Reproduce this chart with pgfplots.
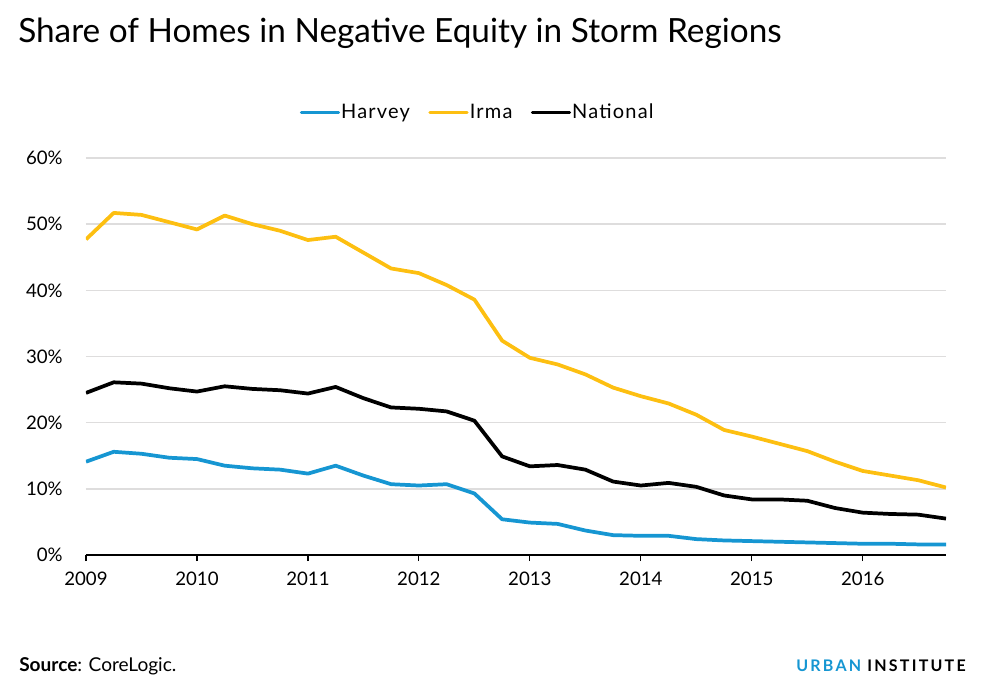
\documentclass[border=0pt]{standalone}
\usepackage{fontspec}
\setmainfont{Lato}
\usepackage{pgfplots}
\usepackage{pgfplotstable}
\pgfplotsset{compat=1.18}

\definecolor{harvey}{HTML}{1696D2}
\definecolor{irma}{HTML}{FDBF11}
\definecolor{gridgray}{HTML}{DEDDDD}

% quarterly share of homes in negative equity, in percent
\pgfplotstableread{
year    harvey irma national
2009.00 14.1   47.7 24.5
2009.25 15.6   51.7 26.1
2009.50 15.3   51.4 25.9
2009.75 14.7   50.3 25.2
2010.00 14.5   49.2 24.7
2010.25 13.5   51.3 25.5
2010.50 13.1   50.0 25.1
2010.75 12.9   49.0 24.9
2011.00 12.3   47.6 24.4
2011.25 13.5   48.1 25.4
2011.50 12.0   45.7 23.7
2011.75 10.7   43.3 22.3
2012.00 10.5   42.6 22.1
2012.25 10.7   40.8 21.7
2012.50  9.3   38.6 20.3
2012.75  5.4   32.4 14.9
2013.00  4.9   29.8 13.4
2013.25  4.7   28.8 13.6
2013.50  3.7   27.3 12.9
2013.75  3.0   25.3 11.1
2014.00  2.9   24.0 10.5
2014.25  2.9   22.9 10.9
2014.50  2.4   21.2 10.3
2014.75  2.2   18.9  9.0
2015.00  2.1   17.9  8.4
2015.25  2.0   16.8  8.4
2015.50  1.9   15.7  8.2
2015.75  1.8   14.1  7.1
2016.00  1.7   12.7  6.4
2016.25  1.7   12.0  6.2
2016.50  1.6   11.3  6.1
2016.75  1.6   10.2  5.5
}\equitydata

\begin{document}
\begin{tikzpicture}[x=1pt,y=1pt]
\useasboundingbox (-64.5,-103.5) rectangle (675,416.25);
\begin{axis}[
    at={(0,0)}, anchor=south west,
    scale only axis,
    width=645pt, height=297.75pt,
    xmin=2009, xmax=2016.75,
    ymin=0, ymax=60,
    axis x line=bottom,
    axis y line=left,
    axis line style={-},
    x axis line style={black, line width=0.9pt},
    y axis line style={draw=none},
    xtick={2009,2010,...,2016},
    ytick={0,10,...,60},
    tick align=outside,
    major tick length=4.5pt,
    xtick style={black, line width=0.9pt},
    ytick style={draw=none},
    ymajorgrids,
    grid style={gridgray, line width=1.2pt},
    /pgf/number format/assume math mode=true,
    /pgf/number format/1000 sep={},
    ticklabel style={font=\fontsize{14}{16}\selectfont},
    xticklabel style={yshift=-5pt},
    yticklabel style={xshift=-9.5pt},
    yticklabel={\pgfmathprintnumber{\tick}\%},
    legend columns=3,
    legend style={draw=none, fill=none, at={(0.455,1.1146)}, anchor=center,
        font=\fontsize{15}{17}\selectfont\addfontfeature{LetterSpace=6},
        nodes={inner xsep=0.8pt},
        /tikz/every even column/.append style={column sep=13pt}},
    legend image code/.code={\draw[#1, line width=2.2pt, line cap=round] (0pt,0pt) -- (28pt,0pt);},
]
\addplot[harvey, line width=2.8pt, line join=round] table[x=year, y=harvey] {\equitydata};
\addplot[irma, line width=2.8pt, line join=round] table[x=year, y=irma] {\equitydata};
\addplot[black, line width=2.8pt, line join=round] table[x=year, y=national] {\equitydata};
\legend{Harvey, Irma, National}
\end{axis}
\node[anchor=base west, inner sep=0pt, font=\fontsize{25}{30}\selectfont] at (-51,384.2)
    {Share of Homes in Negative Equity in Storm Regions};
\node[anchor=base west, inner sep=0pt, font=\fontsize{14.3}{17}\selectfont] at (-50.25,-87.4)
    {\textbf{Source}: CoreLogic.};
\node[anchor=base east, inner sep=0pt, font=\fontsize{12}{14}\selectfont\bfseries\addfontfeature{LetterSpace=14}] at (660,-87.4)
    {\textcolor{harvey}{URBAN} INSTITUTE};
\end{tikzpicture}
\end{document}
